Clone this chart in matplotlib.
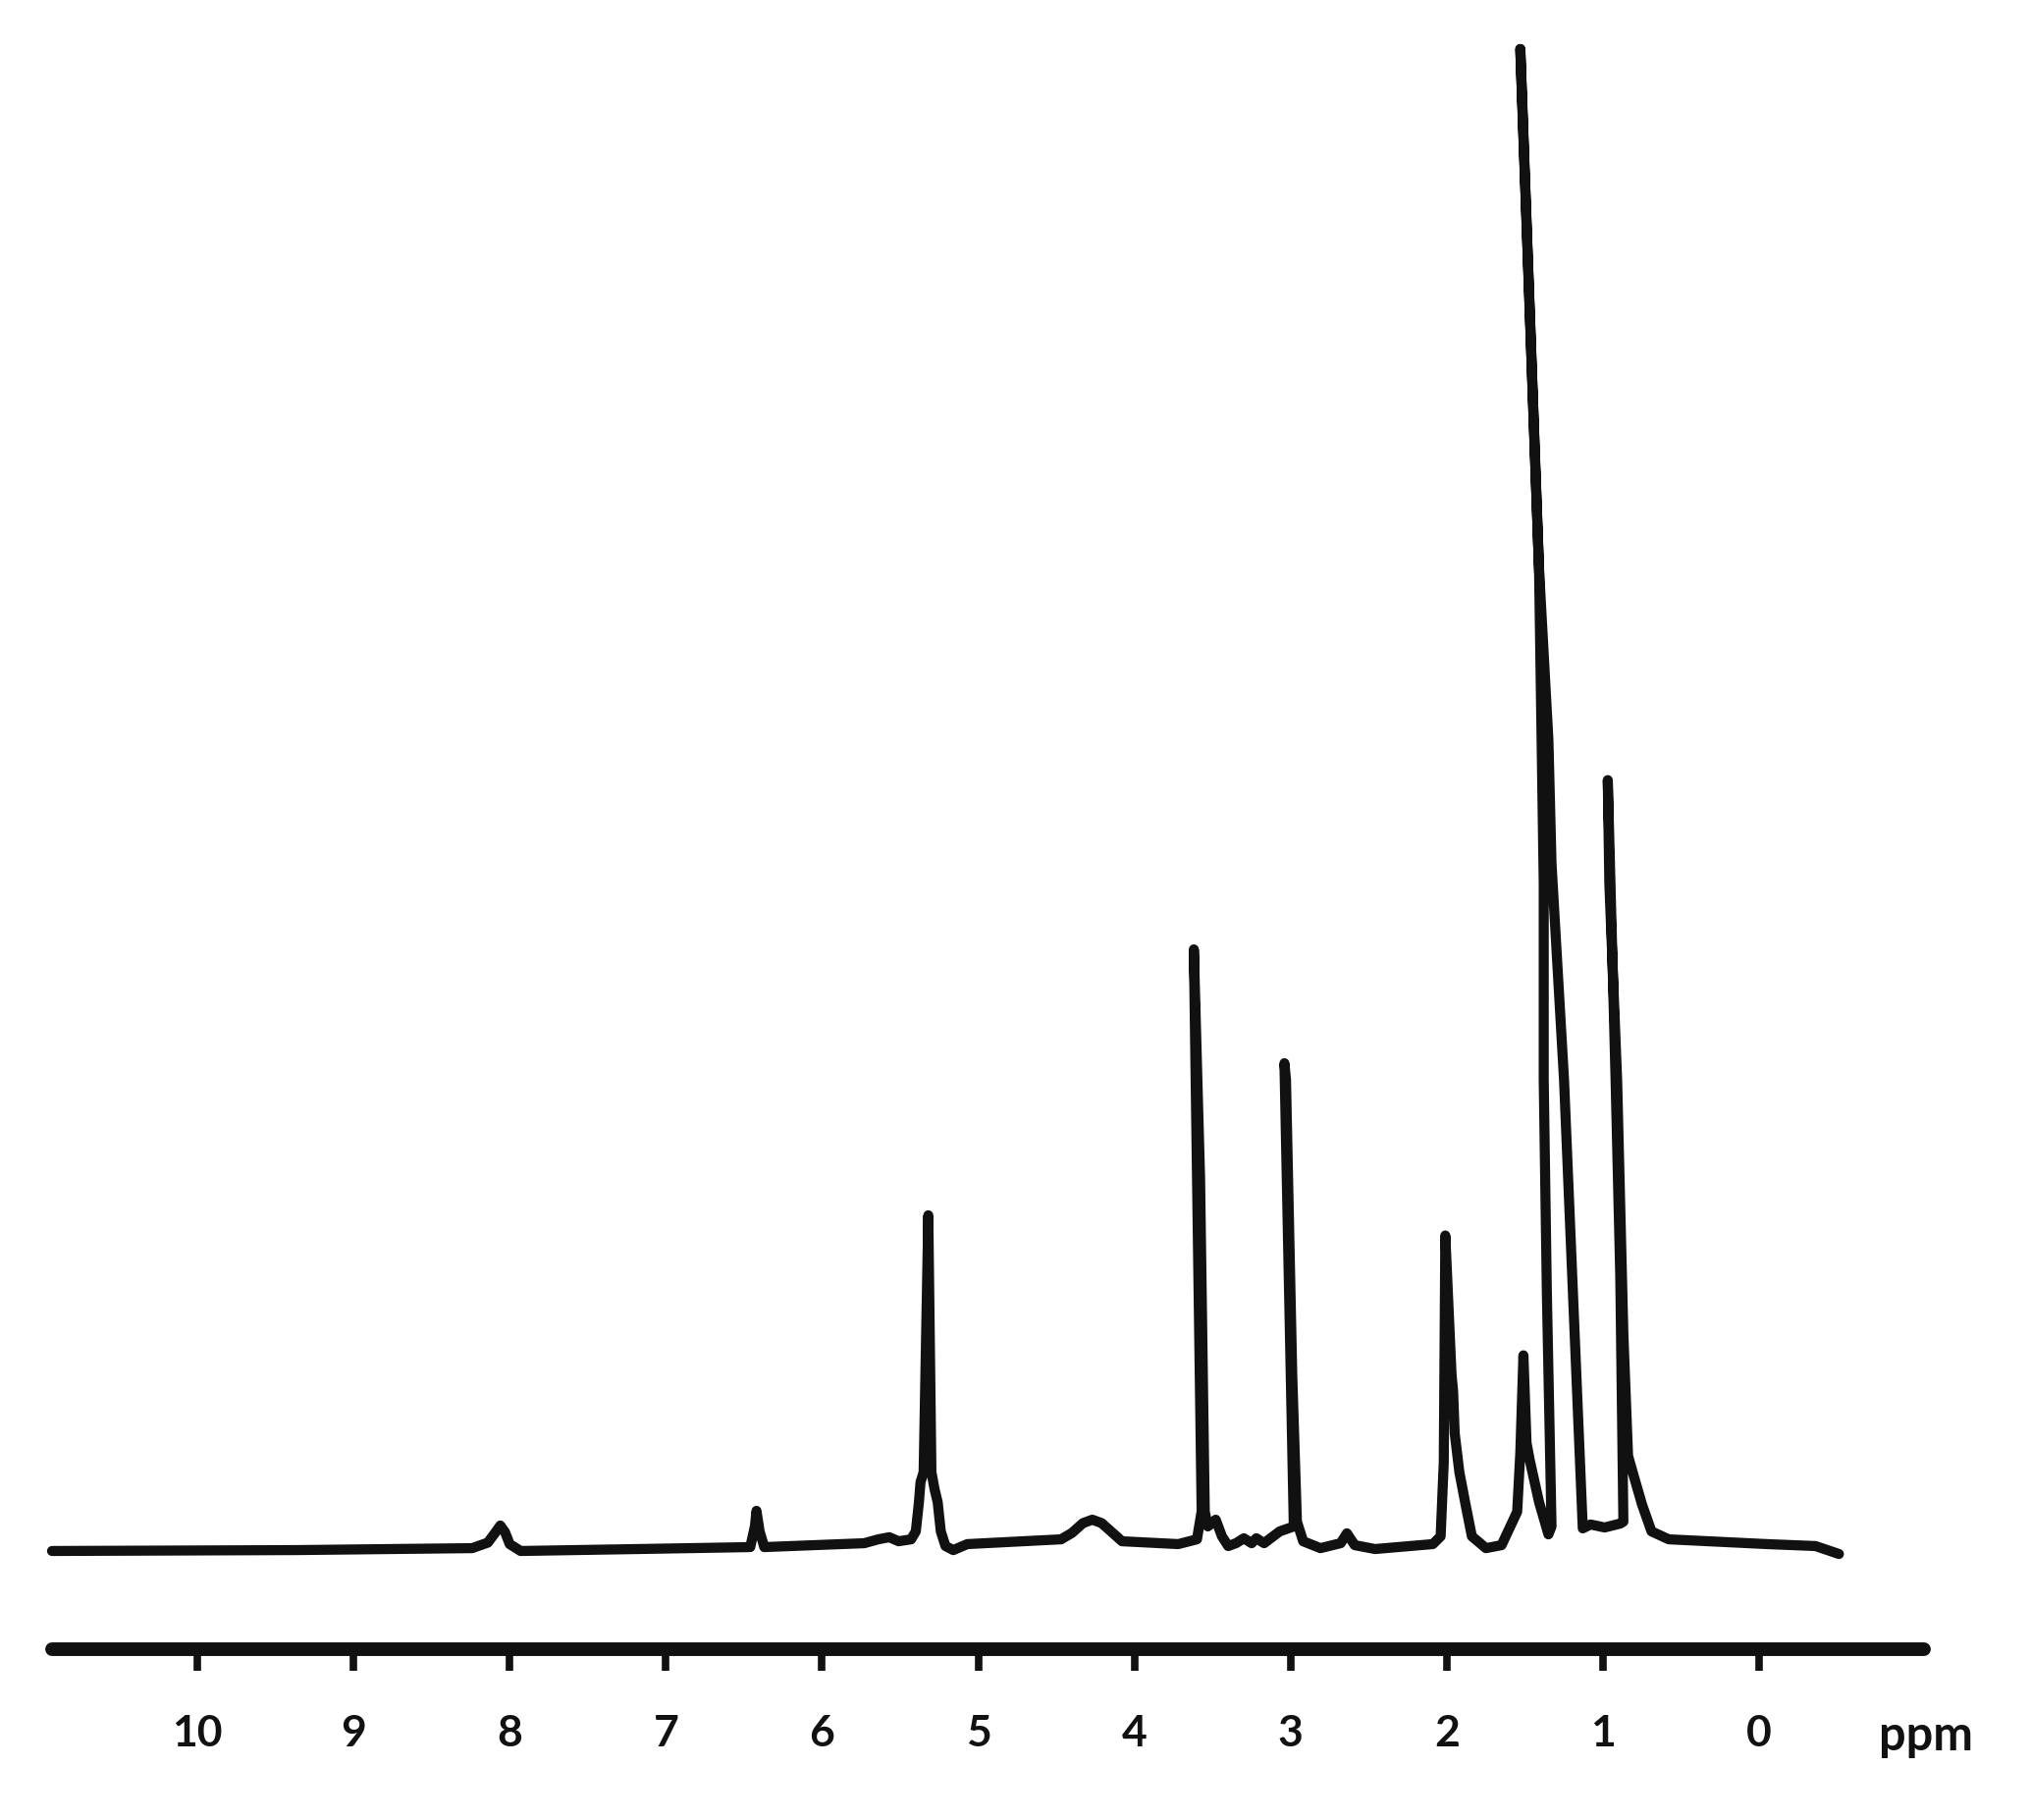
import matplotlib
matplotlib.use('Agg')
import matplotlib.pyplot as plt
import matplotlib.transforms as mtransforms

# Trazo del espectro (ppm, intensidad relativa; pico mayor = 100)
ppm = [10.93, 9.37, 8.24, 8.14, 8.09, 8.06, 8.03, 8.00, 7.93, 7.18,
       6.46, 6.43, 6.42, 6.40, 6.37,
       5.73, 5.64, 5.57, 5.51, 5.43, 5.40, 5.38, 5.37, 5.35, 5.32, 5.30,
       5.28, 5.26, 5.24, 5.21, 5.16, 5.07,
       4.47, 4.40, 4.33, 4.27, 4.21, 4.14, 4.08, 3.72, 3.60,
       3.57, 3.62, 3.58, 3.55, 3.53, 3.48, 3.44, 3.40, 3.35, 3.30, 3.25,
       3.22, 3.17, 3.12, 3.07,
       2.98, 3.04, 3.03, 2.99, 2.96, 2.92, 2.81, 2.68, 2.64, 2.59, 2.46,
       2.09, 2.04, 2.02, 2.01, 1.97, 1.96, 1.95, 1.92, 1.88, 1.84, 1.75,
       1.65, 1.55, 1.53, 1.51, 1.49, 1.47, 1.41, 1.35,
       1.33, 1.36, 1.38, 1.38, 1.41, 1.53, 1.41, 1.35, 1.33, 1.25, 1.13,
       1.08, 0.99, 0.89,
       0.87, 0.89, 0.92, 0.97, 0.96, 0.91, 0.87, 0.84, 0.81, 0.75, 0.69,
       0.58, -0.05, -0.36, -0.51]
intensity = [-0.26, -0.20, -0.07, 0.30, 1.00, 1.44, 1.00, 0.20, -0.26, -0.13,
             0.00, 1.40, 2.42, 1.05, 0.00,
             0.26, 0.52, 0.66, 0.39, 0.52, 1.05, 3.00, 4.33, 5.00, 22.15, 5.00,
             3.87, 3.00, 1.05, 0.07, -0.20, 0.20,
             0.52, 0.95, 1.60, 1.83, 1.60, 0.95, 0.39, 0.20, 0.52,
             2.40, 39.90, 24.60, 2.36, 1.38, 1.83, 0.72, 0.07, 0.26, 0.59, 0.26,
             0.59, 0.26, 0.66, 1.05,
             1.38, 32.30, 31.20, 11.50, 1.70, 0.39, -0.07, 0.26, 0.92, 0.13, -0.13,
             0.20, 0.72, 5.64, 20.80, 11.50, 10.40, 7.60, 5.00, 2.82, 0.72, -0.07,
             0.13, 2.36, 6.29, 12.80, 6.95, 5.83, 3.01, 0.85,
             1.38, 17.00, 31.20, 44.30, 65.30, 100.0, 65.30, 53.90, 45.60, 31.20, 1.25,
             1.51, 1.31, 1.57,
             1.70, 18.10, 31.20, 51.20, 44.30, 31.20, 14.20, 6.09, 4.98, 2.82, 1.05,
             0.52, 0.20, 0.07, -0.46]

tick_values = [10, 9, 8, 7, 6, 5, 4, 3, 2, 1, 0]
tick_labels = [str(t) for t in tick_values]
unit_label = 'ppm'

plt.rcParams['font.family'] = ['Lato', 'DejaVu Sans']

fig = plt.figure(figsize=(20.68, 18.54), dpi=100)
ax = fig.add_axes([0.025629, 0.093851, 0.92215, 0.88997])

ax.plot(ppm, intensity, color='#111111', linewidth=7.4,
        solid_joinstyle='round', solid_capstyle='round', clip_on=False)

ax.set_xlim(10.93, -1.0545)
ax.set_ylim(-6.815, 101.31)

for side in ['top', 'left', 'right']:
    ax.spines[side].set_visible(False)
ax.spines['bottom'].set_linewidth(10.0)
ax.spines['bottom'].set_color('#111111')
ax.spines['bottom'].set_capstyle('round')
ax.set_yticks([])

ax.set_xticks(tick_values)
ax.set_xticklabels(tick_labels, fontsize=32, fontweight='bold')
ax.tick_params(axis='x', direction='out', length=15.5, width=5.5,
               color='#111111', pad=32, labelcolor='#111111')

# etiqueta de unidades al final de la escala
trans = mtransforms.blended_transform_factory(ax.transData, ax.transAxes)
ax.annotate(unit_label, xy=(-1.064, 0), xycoords=trans,
            xytext=(0, -74), textcoords='offset points',
            ha='center', va='baseline', fontsize=35, fontweight='bold',
            color='#111111', annotation_clip=False)

fig.savefig('out.png', dpi=100, facecolor='white')
plt.close(fig)
